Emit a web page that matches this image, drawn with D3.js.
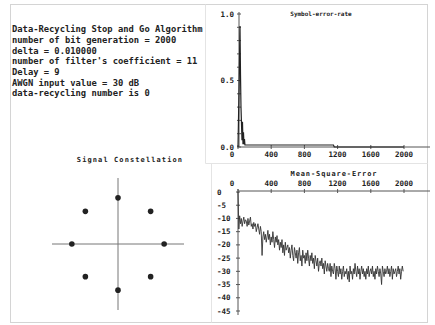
<!DOCTYPE html>
<html>
<head>
<meta charset="utf-8">
<script src="https://cdn.jsdelivr.net/npm/d3@7"></script>
<style>
  body { margin: 0; background: #fff; }
  text { font-family: "DejaVu Sans Mono", monospace; fill: #222; }
</style>
</head>
<body>
<svg class="chart"></svg>
<script>
// ---- data ----
var infoLines = [
  "Data-Recycling Stop and Go Algorithm",
  "number of bit generation = 2000",
  "delta = 0.010000",
  "number of filter's coefficient = 11",
  "Delay = 9",
  "AWGN input value = 30 dB",
  "data-recycling number is 0"
];

var xTicks = [0, 400, 800, 1200, 1600, 2000];
var serTicks = [0, 0.5, 1.0];
var mseTicks = [0, -5, -10, -15, -20, -25, -30, -35, -40, -45];

// symbol error rate (sample index, rate)
var serN = [0, 12, 24, 30, 36, 48, 54, 60, 66, 72, 78, 84, 96, 400, 800, 1150, 1160, 2000];
var serV = [0, 0.42, 0.91, 0.55, 0.30, 0.05, 0.19, 0.02, 0.11, 0.02, 0.06, 0.015, 0.015, 0.015, 0.015, 0.015, 0.0, 0.0];

// mean square error in dB, one value every 10 samples
var mseStep = 10;
var mseDb = [
  0, -14, -9, -12, -10, -13, -11, -9.5, -12, -10.5,
  -11, -13, -10, -12.5, -11, -9.5, -13, -12, -14, -11.5,
  -13, -12, -15, -13.5, -12, -14, -16, -13, -15, -24,
  -17, -15, -18, -16, -19, -17, -14.5, -18, -16, -20,
  -17, -19, -15, -18, -21, -17, -19, -16.5, -20, -18,
  -22, -19, -21, -18, -23, -20, -24, -19, -22, -21,
  -20, -23, -21, -25, -22, -20, -24, -26, -21, -23,
  -25, -22, -27, -23, -21, -26, -24, -28, -22, -25,
  -24, -27, -23, -26, -22, -25, -28, -24, -26, -23,
  -27, -25, -29, -24, -26, -28, -25, -30, -27, -26,
  -28, -25, -29, -27, -31, -26, -28, -30, -27, -29,
  -30, -27, -32, -28, -30, -31, -27, -29, -33, -28,
  -30, -32, -28, -31, -29, -33, -30, -28, -32, -30,
  -31, -29, -33, -30, -34, -28, -31, -30, -33, -29,
  -31, -27, -30, -32, -28, -31, -29, -33, -30, -28,
  -31, -29, -32, -30, -33, -29, -31, -28, -32, -30,
  -29, -31, -28, -32, -30, -33, -29, -31, -28, -30,
  -32, -29, -31, -35, -28, -30, -32, -29, -31, -30,
  -28, -31, -29, -32, -30, -28, -33, -29, -31, -30,
  -29, -32, -30, -28, -31, -29, -33, -30, -28, -30
];

// 8-PSK constellation points (in-phase, quadrature)
var symI = [1, 0.707, 0, -0.707, -1, -0.707, 0, 0.707];
var symQ = [0, 0.707, 1, 0.707, 0, -0.707, -1, -0.707];

// ---- layout ----
var width = 435, height = 325;
var svg = d3.select(".chart").attr("width", width).attr("height", height);
var ink = "#222", axisCol = "#555", frameCol = "#d4d4d4";

// FRAMES
svg.append("rect").attr("x", 10.5).attr("y", 4.5).attr("width", 417).attr("height", 318)
  .attr("fill", "none").attr("stroke", frameCol);
svg.append("path").attr("d", "M205.5,4.5V163.5H427.5M211.5,163.5V322.5")
  .attr("fill", "none").attr("stroke", "#e4e4e4");

// INFO TEXT
svg.append("g").selectAll("text").data(infoLines).enter().append("text")
  .attr("x", 12)
  .attr("y", function(d, i) { return 32.3 + i * 10.67; })
  .style("font-size", "8.8px").style("font-weight", "bold")
  .text(function(d) { return d; });

// shared x scale for both time plots
var x = d3.scaleLinear().domain([0, 2000]).range([238, 404]);

function crossTicksX(g, yPos, labelDy) {
  g.selectAll(".tk").data(xTicks).enter().append("line")
    .attr("x1", function(d) { return x(d); }).attr("x2", function(d) { return x(d); })
    .attr("y1", yPos - 2).attr("y2", yPos + 2)
    .attr("stroke", axisCol);
  g.selectAll(".lb").data(xTicks).enter().append("text")
    .attr("x", function(d) { return x(d); })
    .attr("dx", function(d) { return d === 0 ? -6 : 0; })
    .attr("y", yPos + labelDy)
    .attr("text-anchor", "middle")
    .style("font-size", "7.5px").style("font-weight", "bold")
    .text(function(d) { return d; });
}

// ---- SYMBOL ERROR RATE ----
var ySer = d3.scaleLinear().domain([0, 1]).range([147, 14]);
var gSer = svg.append("g");

gSer.append("line").attr("x1", x(0)).attr("x2", 430).attr("y1", ySer(0)).attr("y2", ySer(0))
  .attr("stroke", axisCol);
gSer.append("line").attr("x1", x(0) + 1).attr("x2", x(0) + 1).attr("y1", ySer(0)).attr("y2", ySer(1) - 2)
  .attr("stroke", axisCol);
gSer.selectAll(".minor").data(d3.range(0, 11)).enter().append("line")
  .attr("x1", x(0) - 1).attr("x2", x(0) + 3)
  .attr("y1", function(d) { return ySer(d / 10); }).attr("y2", function(d) { return ySer(d / 10); })
  .attr("stroke", axisCol);
crossTicksX(gSer, ySer(0), 10);
gSer.selectAll(".ylb").data(serTicks).enter().append("text")
  .attr("x", 234).attr("y", function(d) { return ySer(d) + 2.5; })
  .attr("text-anchor", "end")
  .style("font-size", "7.5px").style("font-weight", "bold")
  .text(function(d) { return d.toFixed(1); });
gSer.append("text").attr("x", 321).attr("y", 15.5).attr("text-anchor", "middle")
  .style("font-size", "6px").style("font-weight", "bold")
  .text("Symbol-error-rate");

var serLine = d3.line()
  .x(function(d, i) { return x(serN[i]); })
  .y(function(d) { return ySer(d); });
gSer.append("path").attr("d", serLine(serV))
  .attr("fill", "none").attr("stroke", ink).attr("stroke-width", 1.2);

// ---- MEAN SQUARE ERROR ----
var yMse = d3.scaleLinear().domain([0, -45]).range([192, 311]);
var gMse = svg.append("g");

gMse.append("line").attr("x1", x(0)).attr("x2", 430).attr("y1", 191).attr("y2", 191)
  .attr("stroke", axisCol);
gMse.append("line").attr("x1", x(0)).attr("x2", x(0)).attr("y1", 189).attr("y2", 315)
  .attr("stroke", axisCol);
crossTicksX(gMse, 191, -5);
gMse.selectAll(".ytk").data(mseTicks).enter().append("line")
  .attr("x1", x(0) - 2).attr("x2", x(0) + 2)
  .attr("y1", function(d) { return yMse(d); }).attr("y2", function(d) { return yMse(d); })
  .attr("stroke", axisCol);
gMse.selectAll(".ylb").data(mseTicks).enter().append("text")
  .attr("x", 217).attr("y", function(d) { return yMse(d) + 2.5; })
  .style("font-size", "7.5px").style("font-weight", "bold")
  .text(function(d) { return d; });
gMse.append("text").attr("x", 334).attr("y", 175.5).attr("text-anchor", "middle")
  .style("font-size", "7px").style("font-weight", "bold").style("letter-spacing", "0.9px")
  .text("Mean-Square-Error");

var mseLine = d3.line()
  .x(function(d, i) { return x(i * mseStep); })
  .y(function(d) { return yMse(d); });
gMse.append("path").attr("d", mseLine(mseDb))
  .attr("fill", "none").attr("stroke", "#333").attr("stroke-width", 0.9);

// ---- SIGNAL CONSTELLATION ----
var cx = d3.scaleLinear().domain([-1.43, 1.43]).range([52, 184]);
var cy = d3.scaleLinear().domain([-1.43, 1.43]).range([310, 178]);
var gCon = svg.append("g");
gCon.append("line").attr("x1", cx(-1.43)).attr("x2", cx(1.43)).attr("y1", cy(0)).attr("y2", cy(0))
  .attr("stroke", "#777");
gCon.append("line").attr("x1", cx(0)).attr("x2", cx(0)).attr("y1", cy(-1.43)).attr("y2", cy(1.43))
  .attr("stroke", "#777");
gCon.selectAll("circle").data(symI).enter().append("circle")
  .attr("cx", function(d) { return cx(d); })
  .attr("cy", function(d, i) { return cy(symQ[i]); })
  .attr("r", 2.8).attr("fill", ink);
gCon.append("text").attr("x", 130).attr("y", 162).attr("text-anchor", "middle")
  .style("font-size", "7px").style("font-weight", "bold").style("letter-spacing", "1.1px")
  .text("Signal Constellation");
</script>
</body>
</html>
